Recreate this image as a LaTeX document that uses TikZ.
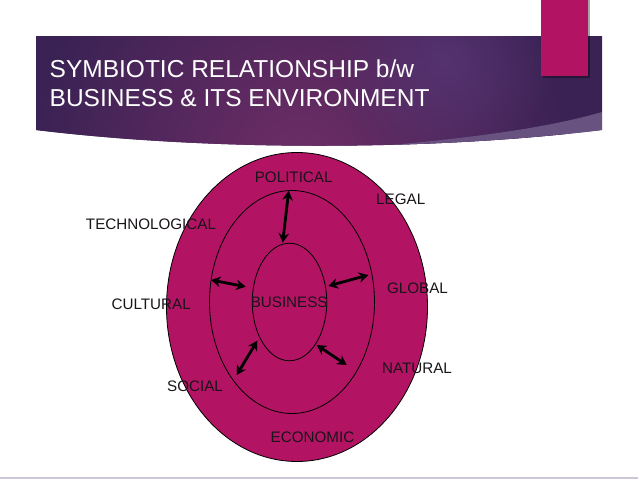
\documentclass[tikz,border=0pt]{standalone}
\usepackage{fontspec}
\setmainfont{Liberation Sans}
\usetikzlibrary{arrows.meta,shapes.geometric,fadings}
\definecolor{mypink}{RGB}{178,19,98}
\definecolor{bannerbase}{RGB}{58,34,84}
\definecolor{bannerglow}{RGB}{110,45,102}
\definecolor{bannerspot}{RGB}{88,56,120}
\definecolor{bannerband}{RGB}{103,82,128}
\definecolor{lbltext}{RGB}{25,20,25}
\definecolor{bottomrule}{RGB}{205,198,215}
\tikzfading[name=glowfade, inner color=transparent!30, outer color=transparent!100]
\begin{document}
\begin{tikzpicture}[x=1pt,y=-1pt,
  ring/.style={ellipse, draw=black, line width=0.8pt, fill=mypink, inner sep=0pt},
  lbl/.style={font=\fontsize{15.2}{18}\selectfont, text=lbltext, inner sep=0pt},
  ttl/.style={anchor=base west, font=\fontsize{24.5}{29}\selectfont, text=white, inner sep=0pt},
  biarrow/.style={line width=2.8pt, {Stealth[length=9.5pt,width=10.5pt]}-{Stealth[length=9.5pt,width=10.5pt]}}]
\useasboundingbox (0,0) rectangle (638,479);
\fill[white] (0,0) rectangle (638,479);
\fill[bottomrule] (0,477) rectangle (638,479);
% banner
\begin{scope}
  \clip (36,36) -- (602,36) -- (602,130) .. controls (420,152) and (200,150) .. (36,130) -- cycle;
  \fill[bannerbase] (0,0) rectangle (638,200);
  \shade[inner color=bannerglow, outer color=bannerbase] (300,165) circle (270pt);
  \fill[bannerspot, path fading=glowfade] (445,62) circle (110pt);
  \fill[bannerband] (602,112) .. controls (540,130) and (450,141) .. (330,150) -- (330,200) -- (602,200) -- cycle;
\end{scope}
% pink tab
\fill[black, opacity=0.35] (543,0) rectangle (590,78);
\fill[mypink] (541,0) rectangle (588,76);
% title
\node[ttl] (t1) at (49.5,77.3) {SYMBIOTIC RELATIONSHIP b/w};
\node[ttl] (t2) at (49.5,106) {BUSINESS \& ITS ENVIRONMENT};
% ellipses
\node[ring, minimum width=261pt, minimum height=309pt] (outer) at (297,307) {};
\node[ring, minimum width=165pt, minimum height=223pt] (middle) at (292,302) {};
\node[ring, minimum width=74.5pt, minimum height=117.5pt] (inner) at (289.5,302) {};
% arrows
\coordinate (a1) at (288.7,190.7); \coordinate (b1) at (282.7,242.7);
\coordinate (a2) at (211,280);     \coordinate (b2) at (245.7,286.7);
\coordinate (a3) at (368.3,275);   \coordinate (b3) at (328.3,286);
\coordinate (a4) at (236.7,375);   \coordinate (b4) at (257.3,340.7);
\coordinate (a5) at (346.7,365);   \coordinate (b5) at (316.7,345);
\draw[biarrow] (a1) -- (b1);
\draw[biarrow] (a2) -- (b2);
\draw[biarrow] (a3) -- (b3);
\draw[biarrow] (a4) -- (b4);
\draw[biarrow] (a5) -- (b5);
% labels
\node[lbl] (political) at (293.7,177.5) {POLITICAL};
\node[lbl] (legal) at (400.7,199) {LEGAL};
\node[lbl] (tech) at (151,224) {TECHNOLOGICAL};
\node[lbl] (global) at (417.5,288.7) {GLOBAL};
\node[lbl] (cultural) at (151.2,304.5) {CULTURAL};
\node[lbl] (business) at (289.2,302.5) {BUSINESS};
\node[lbl] (natural) at (417,368.2) {NATURAL};
\node[lbl] (social) at (195,385.8) {SOCIAL};
\node[lbl] (economic) at (312.5,437.5) {ECONOMIC};
\end{tikzpicture}
\end{document}
